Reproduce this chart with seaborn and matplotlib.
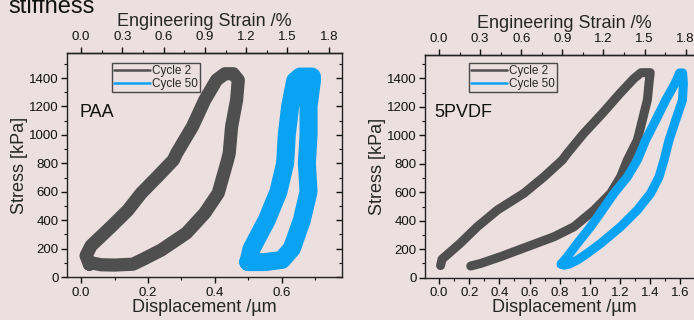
import numpy as np
import matplotlib
matplotlib.use("Agg")
import matplotlib.pyplot as plt
from matplotlib.lines import Line2D
from matplotlib.ticker import MultipleLocator
import seaborn as sns

GRIS = "#4f4f4f"
AZUL = "#0aa2f3"
FONDO = "#ecdfe0"

# PAA, ciclo 2 (desplazamiento um, tension kPa), carga + descarga (centro de la banda)
paa_c2_x = [0.025, 0.015, 0.03, 0.09, 0.14, 0.18, 0.23, 0.276, 0.286, 0.333, 0.37, 0.405, 0.43, 0.455,
            0.47, 0.465, 0.45, 0.443, 0.438, 0.41, 0.37, 0.315, 0.24, 0.186, 0.155, 0.10, 0.06, 0.03, 0.025]
paa_c2_y = [90, 150, 220, 354, 470, 590, 710, 823, 872, 1058, 1246, 1386, 1430, 1430,
            1386, 1246, 1058, 872, 823, 590, 450, 309, 190, 125, 90, 84, 86, 100, 90]

# PAA, ciclo 50
paa_c50_x = [0.50, 0.51, 0.555, 0.59, 0.61, 0.615, 0.625, 0.64, 0.655,
             0.69, 0.69, 0.68, 0.68, 0.675, 0.68, 0.66, 0.63, 0.60, 0.55, 0.50]
paa_c50_y = [105, 200, 400, 600, 800, 1000, 1200, 1380, 1410,
             1410, 1380, 1200, 1000, 800, 600, 400, 200, 120, 105, 105]

# 5PVDF, ciclo 2
pvdf_c2_x = [0.01, 0.02, 0.14, 0.254, 0.387, 0.563, 0.696, 0.818, 0.851, 0.96, 1.083, 1.20, 1.293, 1.34, 1.40,
             1.392, 1.381, 1.348, 1.315, 1.249, 1.204, 1.138, 1.028, 0.895, 0.763, 0.586, 0.409, 0.276, 0.21]
pvdf_c2_y = [85, 130, 241, 358, 475, 593, 709, 827, 874, 1014, 1154, 1295, 1400, 1440, 1440,
             1365, 1248, 1107, 967, 827, 709, 593, 475, 358, 288, 218, 148, 100, 82]

# 5PVDF, ciclo 50
pvdf_c50_x = [0.81, 0.851, 0.917, 1.005, 1.083, 1.16, 1.249, 1.315, 1.37, 1.437, 1.503, 1.565, 1.595, 1.615,
              1.62, 1.614, 1.569, 1.525, 1.492, 1.459, 1.403, 1.315, 1.204, 1.072, 0.983, 0.917, 0.862, 0.83, 0.81]
pvdf_c50_y = [95, 148, 241, 358, 475, 593, 709, 827, 967, 1107, 1248, 1365, 1438, 1438,
              1365, 1248, 1107, 967, 827, 709, 593, 475, 358, 241, 171, 124, 95, 88, 95]

sns.set_theme(style="ticks")
plt.rcParams["font.family"] = ["Liberation Sans", "DejaVu Sans"]
plt.rcParams["axes.linewidth"] = 1.0

fig = plt.figure(figsize=(6.94, 3.2), dpi=100, facecolor=FONDO)
fig.text(8 / 694, 1 - 13 / 320, "stiffness", fontsize=17, va="baseline", ha="left", color="#111111")


def panel(pos, xlim, ylim, k, c2, c50, lw2, lw50, etiqueta, xy_etq, leg_pos, xticks):
    ax = fig.add_axes(pos)
    ax.set_facecolor("none")
    sns.lineplot(x=c2[0], y=c2[1], sort=False, estimator=None, ax=ax, color=GRIS, lw=lw2)
    sns.lineplot(x=c50[0], y=c50[1], sort=False, estimator=None, ax=ax, color=AZUL, lw=lw50)
    ax.set_xlim(xlim)
    ax.set_ylim(ylim)
    ax.set_xticks(xticks)
    ax.xaxis.set_minor_locator(MultipleLocator(0.1))
    ax.set_yticks(range(0, 1401, 200))
    ax.yaxis.set_minor_locator(MultipleLocator(100))
    ax.tick_params(which="both", direction="out", labelsize=9.5, colors="#111111", pad=3)
    ax.tick_params(which="major", length=4, width=1)
    ax.tick_params(which="minor", length=2, width=0.8)
    ax.tick_params(axis="y", which="both", right=True, labelright=False, pad=2)
    # ticks del eje derecho hacia dentro
    for t in ax.yaxis.get_ticklines(minor=False)[1::2] + ax.yaxis.get_ticklines(minor=True)[1::2]:
        t.set_marker(matplotlib.lines.TICKLEFT)
    ax.set_xticklabels([f"{v:.1f}" for v in xticks])
    ax.set_xlabel("Displacement /\u00b5m", fontsize=13, labelpad=0)
    ax.set_ylabel("Stress [kPa]", fontsize=13, labelpad=1)
    for s in ax.spines.values():
        s.set_color("#222222")

    sec = ax.secondary_xaxis("top", functions=(lambda d: d * k, lambda e: e / k))
    sec.set_xticks([0.0, 0.3, 0.6, 0.9, 1.2, 1.5, 1.8])
    sec.set_xticklabels(["0.0", "0.3", "0.6", "0.9", "1.2", "1.5", "1.8"])
    sec.xaxis.set_minor_locator(MultipleLocator(0.15))
    sec.tick_params(which="both", direction="out", labelsize=9.5, colors="#111111", pad=3)
    sec.tick_params(which="major", length=4, width=1)
    sec.tick_params(which="minor", length=2, width=0.8)
    sec.set_xlabel("Engineering Strain /%", fontsize=13, labelpad=4)

    ax.text(xy_etq[0], xy_etq[1], etiqueta, fontsize=13, va="baseline", ha="left", color="#111111")
    h = [Line2D([], [], color=GRIS, lw=1.8), Line2D([], [], color=AZUL, lw=1.8)]
    leg = ax.legend(h, ["Cycle 2", "Cycle 50"], loc="upper left", bbox_to_anchor=leg_pos,
                    fontsize=8.5, frameon=True, fancybox=False, handlelength=3.0,
                    borderpad=0.2, labelspacing=0.05, handletextpad=0.2, borderaxespad=0)
    leg.get_frame().set_edgecolor("#222222")
    leg.get_frame().set_linewidth(1.0)
    leg.get_frame().set_facecolor("none")
    return ax


H = 320.0
W = 694.0
panel([67 / W, 1 - 277 / H, 275 / W, 224 / H], (-0.042, 0.78), (0, 1576), 2.431,
      (paa_c2_x, paa_c2_y), (paa_c50_x, paa_c50_y), 9.5, 13, "PAA", (-0.006, 1126),
      ((112 - 67) / 275, (277 - 63) / 224), [0.0, 0.2, 0.4, 0.6])
panel([425 / W, 1 - 277.7 / H, 278 / W, 222.7 / H], (-0.093, 1.75), (0, 1564), 1.101,
      (pvdf_c2_x, pvdf_c2_y), (pvdf_c50_x, pvdf_c50_y), 6.5, 6.5, "5PVDF", (-0.031, 1128),
      ((469 - 425) / 278, (277.7 - 63) / 222.7), [0.0, 0.2, 0.4, 0.6, 0.8, 1.0, 1.2, 1.4, 1.6])

fig.savefig("out.png", dpi=100, facecolor=FONDO)
